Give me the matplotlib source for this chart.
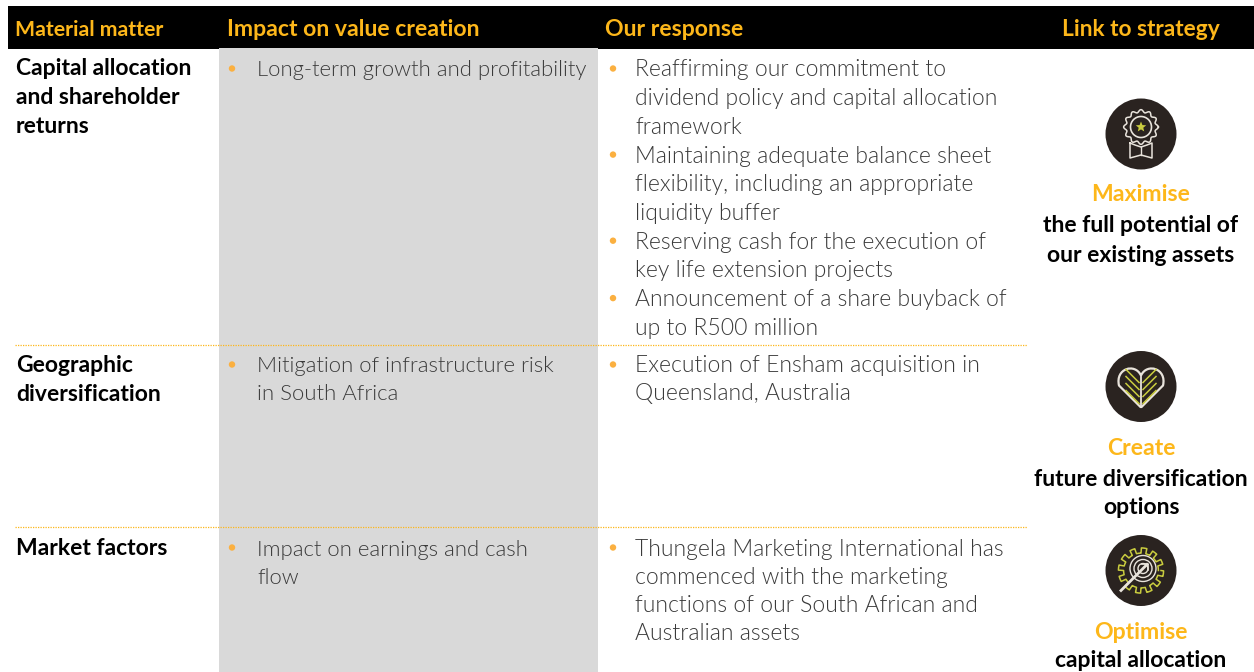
import numpy as np
import matplotlib
matplotlib.use('Agg')
import matplotlib.pyplot as plt
from matplotlib import font_manager
from matplotlib.patches import Rectangle, Circle, PathPatch
from matplotlib.path import Path

# Table text
headers = ['Material matter', 'Impact on value creation', 'Our response', 'Link to strategy']
matters = [['Capital allocation', 'and shareholder', 'returns'],
           ['Geographic', 'diversification'],
           ['Market factors']]
impacts = [[['Long-term growth and profitability']],
           [['Mitigation of infrastructure risk', 'in South Africa']],
           [['Impact on earnings and cash', 'flow']]]
responses = [[['Reaffirming our commitment to', 'dividend policy and capital allocation', 'framework'],
              ['Maintaining adequate balance sheet', 'flexibility, including an appropriate', 'liquidity buffer'],
              ['Reserving cash for the execution of', 'key life extension projects'],
              ['Announcement of a share buyback of', 'up to R500 million']],
             [['Execution of Ensham acquisition in', 'Queensland, Australia']],
             [['Thungela Marketing International has', 'commenced with the marketing',
               'functions of our South African and', 'Australian assets']]]
strategy_heads = ['Maximise', 'Create', 'Optimise']
strategy_lines = [['the full potential of', 'our existing assets'],
                  ['future diversification', 'options'],
                  ['capital allocation']]

AMBER = '#fdb71a'
BULLET = '#fbb040'
GREY = '#d9d9d9'
TEXT = '#3a3a3a'
DARK = '#2a2320'
SAND = '#e9e4dc'
LIME = '#c9cc3f'

plt.rcParams['font.family'] = ['Lato', 'DejaVu Sans']

# weight='light' lands on Lato Hairline here, so pick the Light file by name
light_files = [f for f in font_manager.findSystemFonts() if f.endswith('Lato-Light.ttf')]


def light_font(size):
    if light_files:
        return font_manager.FontProperties(fname=light_files[0], size=size)
    return font_manager.FontProperties(family='Lato', size=size - 0.6)


fig = plt.figure(figsize=(12.54, 6.72), dpi=100)
ax = fig.add_axes([0, 0, 1, 1])
ax.set_xlim(0, 1254)
ax.set_ylim(672, 0)
ax.axis('off')

# backgrounds
ax.add_patch(Rectangle((8, 6), 1246, 43, color='black', lw=0))
ax.add_patch(Rectangle((219, 48), 379, 624, color=GREY, lw=0))

# header row
for label, x, ha, size in zip(headers, [15, 227, 605, 1141], ['left', 'left', 'left', 'center'],
                              [15.3, 16.6, 16.6, 16.4]):
    ax.text(x, 36, label, color=AMBER, fontsize=size, fontweight='bold', ha=ha, va='baseline')

row_y = [75, 372, 555]

# dotted row rules
for y in [344.5, 526.5]:
    ax.plot([15, 1027], [y, y], color=AMBER, lw=0.9, ls=(0, (1, 1)))

# first column
for lines, y0 in zip(matters, row_y):
    for i, line in enumerate(lines):
        ax.text(16, y0 + i * 29, line, color='black', fontsize=16.5, fontweight='bold', va='baseline')


def bullets(col, x_dot, x_text, y0, step, size):
    font = light_font(size)
    y = y0
    for item in col:
        ax.add_patch(Circle((x_dot, y - 8), 3.2, color=BULLET, lw=0))
        for line in item:
            ax.text(x_text, y, line, color=TEXT, fontproperties=font, va='baseline')
            y += step


for col, y0 in zip(impacts, [76.5, 372.5, 555.5]):
    bullets(col, 232, 257, y0, 28, 15.9)
bullets(responses[0], 613, 635, 76.5, 28.7, 16.5)
bullets(responses[1], 613, 635, 372.5, 28, 16.5)
bullets(responses[2], 613, 635, 555.5, 28, 16.5)


# icons
def medal(cx, cy):
    t = np.linspace(0, 2 * np.pi, 121)
    r = 16 + 1.4 * np.cos(12 * t)
    ax.plot(cx + r * np.cos(t), cy - 7 + r * np.sin(t), color=SAND, lw=1.1)
    ax.add_patch(Circle((cx, cy - 7), 10.5, fill=False, ec=SAND, lw=1.2))
    a = np.pi / 2 + np.arange(10) * np.pi / 5
    rr = np.where(np.arange(10) % 2 == 0, 5.5, 2.4)
    ax.fill(cx + rr * np.cos(a), cy - 7 - rr * np.sin(a), color=LIME, lw=0)
    xs = np.array([-11, -11, 0, 11, 11, 6, 0, -6, -11])
    ys = np.array([9, 24, 21, 24, 9, 11, 13, 11, 9])
    ax.plot(cx + xs, cy + ys, color=SAND, lw=1.1)
    ax.plot([cx, cx], [cy + 13, cy + 21], color=SAND, lw=1)


def heart(cx, cy):
    verts = [(0, 21), (-22, -1), (-26, -18), (-6, -24), (0, -11), (6, -24), (26, -18), (22, -1), (0, 21)]
    codes = [Path.MOVETO, Path.LINETO, Path.CURVE4, Path.CURVE4, Path.CURVE4,
             Path.CURVE4, Path.CURVE4, Path.CURVE4, Path.LINETO]
    for d in [-13, -6, 1, 8]:
        for s in [-1, 1]:
            ax.plot([cx + s * 2, cx + s * 15], [cy + d + 9, cy + d - 4], color=LIME, lw=1.1)
    ax.add_patch(PathPatch(Path(np.array(verts) + (cx, cy), codes), fc='none', ec=SAND, lw=1.6))
    ax.plot([cx, cx], [cy - 11, cy + 20], color=SAND, lw=1.3)


def gear(cx, cy):
    t = np.linspace(0, 2 * np.pi, 361)
    r = 20 + 2.6 * np.sign(np.sin(12 * t))
    ax.plot(cx + r * np.cos(t), cy + r * np.sin(t), color=LIME, lw=1.1)
    for rad in [13, 9, 5]:
        ax.add_patch(Circle((cx + 2, cy - 2), rad, fill=False, ec=SAND, lw=1))
    ax.plot([cx - 20, cx + 6], [cy + 20, cy - 6], color=SAND, lw=2)
    ax.plot([cx + 1, cx + 7, cx + 7], [cy - 7, cy - 7, cy - 1], color=SAND, lw=1.2)


icon_funcs = [medal, heart, gear]
icon_y = [134, 386.5, 570.5]
head_y = [201, 455, 639]
line_y = [232, 262, 486, 514, 667]
idx = 0
for k, (name, draw) in enumerate(zip(strategy_heads, icon_funcs)):
    ax.add_patch(Circle((1141, icon_y[k]), 35.5, color=DARK, lw=0))
    draw(1141, icon_y[k])
    ax.text(1141, head_y[k], name, color=AMBER, fontsize=16.6, fontweight='bold', ha='center', va='baseline')
    for line in strategy_lines[k]:
        ax.text(1141, line_y[idx], line, color='black', fontsize=16.5, fontweight='bold', ha='center', va='baseline')
        idx += 1

fig.savefig('out.png', dpi=100)
